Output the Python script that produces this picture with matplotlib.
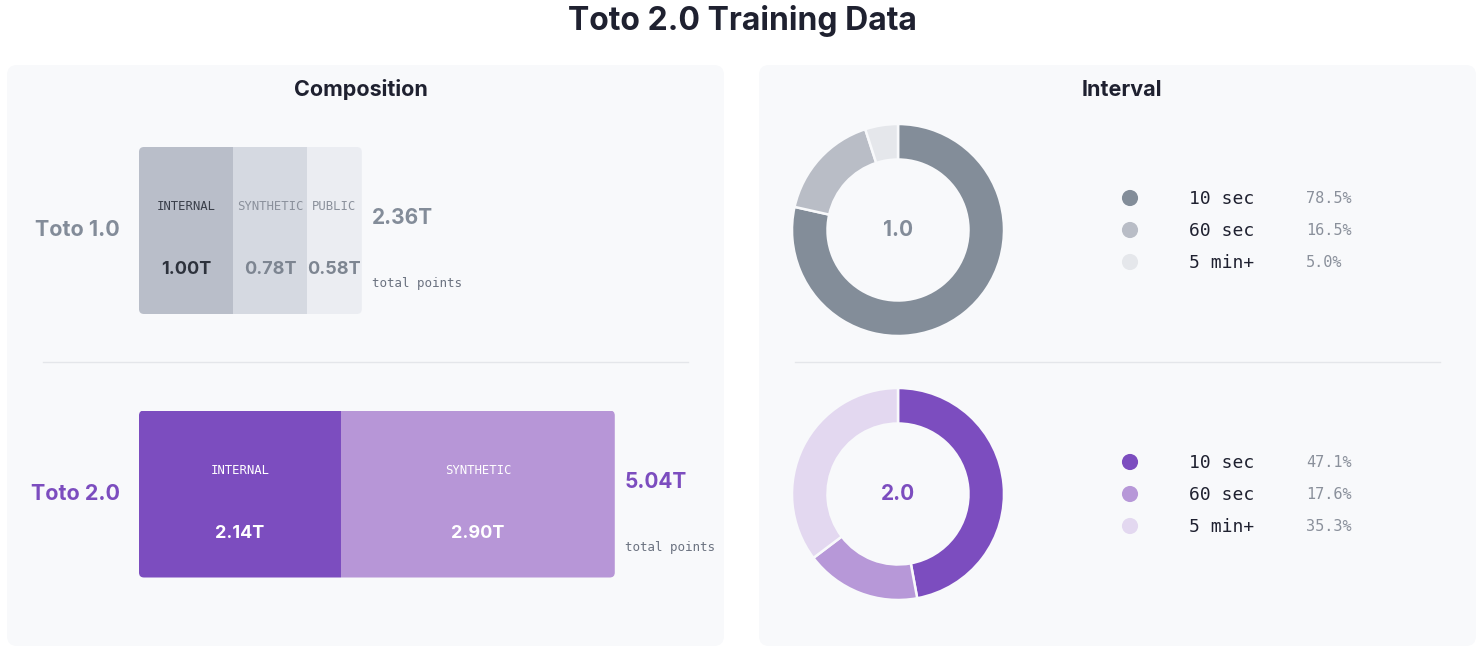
import matplotlib
matplotlib.use("Agg")
import matplotlib.pyplot as plt
from matplotlib.patches import FancyBboxPatch
import numpy as np

# ---------------- data ----------------
models = ["Toto 1.0", "Toto 2.0"]
seg_names_v1 = ["INTERNAL", "SYNTHETIC", "PUBLIC"]
seg_vals_v1 = [1.00, 0.78, 0.58]
seg_names_v2 = ["INTERNAL", "SYNTHETIC"]
seg_vals_v2 = [2.14, 2.90]
totals = [2.36, 5.04]

interval_labels = ["10 sec", "60 sec", "5 min+"]
interval_v1 = [78.5, 16.5, 5.0]
interval_v2 = [47.1, 17.6, 35.3]
donut_centers = ["1.0", "2.0"]

# ---------------- styles ----------------
SANS = ["Inter", "DejaVu Sans"]
MONO = ["DejaVu Sans Mono"]
DARK = "#1f2130"
PANEL = "#f8f9fb"
GRAY_TXT = "#838c99"
PURPLE = "#7c4dbf"
colors_v1 = ["#b9bec9", "#d5d9e1", "#ebedf2"]
colors_v2 = ["#7c4dbf", "#b796d7"]
seg_txt_v1 = ["#3a3f4a", "#8a909b", "#8a909b"]
val_txt_v1 = ["#2d323c", "#7d8591", "#7d8591"]
donut_col_v1 = ["#838d99", "#b9bdc6", "#e5e7eb"]
donut_col_v2 = ["#7c4dbf", "#b798d8", "#e3d8f0"]

W, H = 1484, 658
fig = plt.figure(figsize=(W / 100, H / 100), dpi=100)
fig.patch.set_facecolor("white")

bg = fig.add_axes([0, 0, 1, 1])
bg.set_xlim(0, W)
bg.set_ylim(H, 0)
bg.axis("off")

for x0 in (7, 759):
    bg.add_patch(FancyBboxPatch((x0, 65), 717, 581,
                                boxstyle="round,pad=0,rounding_size=10",
                                facecolor=PANEL, edgecolor="none", zorder=0))

bg.text(742, 21, "Toto 2.0 Training Data", ha="center", va="center",
        fontsize=23, fontweight="bold", color=DARK, family=SANS)
bg.text(361, 90, "Composition", ha="center", va="center",
        fontsize=15.5, fontweight="bold", color=DARK, family=SANS)
bg.text(1122, 90, "Interval", ha="center", va="center",
        fontsize=15.5, fontweight="bold", color=DARK, family=SANS)
bg.plot([43, 688], [362, 362], color="#e4e6ea", lw=1, zorder=1)
bg.plot([795, 1440], [362, 362], color="#e4e6ea", lw=1, zorder=1)

# ---------------- composition bars ----------------
PX_PER_T = 94.4
BAR_X0 = 139
comp = fig.add_axes([0, 0, 1, 1])
comp.set_xlim(-BAR_X0 / PX_PER_T, (W - BAR_X0) / PX_PER_T)
comp.set_ylim(H, 0)
comp.axis("off")
comp.patch.set_alpha(0)

bar_y = [230.5, 494]
bar_h = 167

rows = [
    (seg_names_v1, seg_vals_v1, colors_v1, seg_txt_v1, val_txt_v1, GRAY_TXT),
    (seg_names_v2, seg_vals_v2, colors_v2, ["white"] * 2, ["white"] * 2, PURPLE),
]

for i, (names, vals, cols, tcols, vcols, main_col) in enumerate(rows):
    y = bar_y[i]
    lefts = np.concatenate([[0], np.cumsum(vals)[:-1]])
    bars = comp.barh([y] * len(vals), vals, left=lefts, height=bar_h,
                     color=cols, edgecolor="none", zorder=2)
    total_px = sum(vals) * PX_PER_T
    clip = FancyBboxPatch((BAR_X0, y - bar_h / 2), total_px, bar_h,
                          boxstyle="round,pad=0,rounding_size=5",
                          transform=bg.transData, facecolor="none", edgecolor="none")
    bg.add_patch(clip)
    for b in bars:
        b.set_clip_path(clip)
    for name, v, l, tc, vc in zip(names, vals, lefts, tcols, vcols):
        cx = l + v / 2
        comp.text(cx, y - 24, name, ha="center", va="center", fontsize=8.8,
                  color=tc, family=MONO, zorder=3)
        comp.text(cx, y + 39, f"{v:.2f}T", ha="center", va="center",
                  fontsize=13, fontweight="bold", color=vc, family=SANS, zorder=3)
    comp.annotate(f"{totals[i]:.2f}T", (sum(vals), y - 12.5), xytext=(10, 0),
                  textcoords="offset pixels", ha="left", va="center",
                  fontsize=15, fontweight="bold", color=main_col, family=SANS)
    comp.annotate("total points", (sum(vals), y + 53), xytext=(10, 0),
                  textcoords="offset pixels", ha="left", va="center",
                  fontsize=9, color="#6b7280", family=MONO)
    comp.annotate(models[i], (0, y), xytext=(-19, 0),
                  textcoords="offset pixels", ha="right", va="center",
                  fontsize=15.5, fontweight="bold", color=main_col, family=SANS)

# ---------------- donuts ----------------
donut_cy = [230, 494]
R = 106
for i, (vals, cols, ctr, ccol) in enumerate([
        (interval_v1, donut_col_v1, donut_centers[0], GRAY_TXT),
        (interval_v2, donut_col_v2, donut_centers[1], PURPLE)]):
    cy = donut_cy[i]
    pax = fig.add_axes([(898 - R) / W, 1 - (cy + R) / H, 2 * R / W, 2 * R / H])
    pax.pie(vals, colors=cols, startangle=90, counterclock=False, radius=1,
            wedgeprops=dict(width=0.335, edgecolor=PANEL, linewidth=1.8))
    pax.set_xlim(-1.0, 1.0)
    pax.set_ylim(-1.0, 1.0)
    pax.set_aspect("equal")
    pax.axis("off")
    pax.text(0, 0, ctr, ha="center", va="center", fontsize=15,
             fontweight="bold", color=ccol, family=SANS)
    for k, (lab, v, c) in enumerate(zip(interval_labels, vals, cols)):
        ly = cy - 32 + 32 * k
        bg.scatter([1130], [ly], s=135, color=c, edgecolors="none", zorder=3)
        bg.text(1189, ly + 0.5, lab, ha="left", va="center", fontsize=13,
                color=DARK, family=MONO)
        bg.text(1306, ly + 0.5, f"{v:.1f}%", ha="left", va="center", fontsize=11,
                color="#8a909b", family=MONO)

fig.savefig("out.png", dpi=100, facecolor="white")
